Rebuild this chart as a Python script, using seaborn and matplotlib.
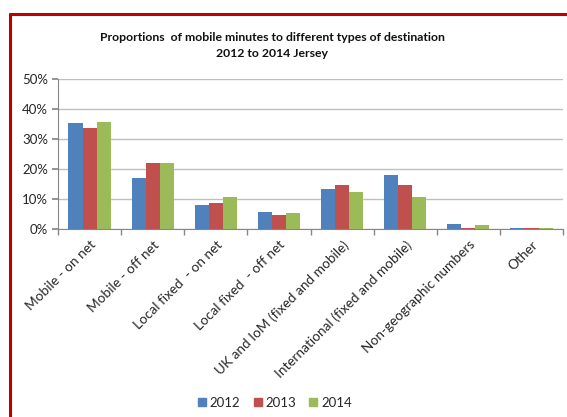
import matplotlib
matplotlib.use("Agg")
import matplotlib.pyplot as plt
import matplotlib.patches as mpatches
import seaborn as sns
import pandas as pd
from matplotlib.ticker import FuncFormatter, MultipleLocator

categories = ["Mobile - on net", "Mobile - off net", "Local fixed  - on net", "Local fixed  - off net",
              "UK and IoM (fixed and mobile)", "International (fixed and mobile)",
              "Non-geographic numbers", "Other"]
years = ["2012", "2013", "2014"]
v2012 = [35.2, 16.9, 7.9, 5.8, 13.4, 18.0, 1.6, 0.3]
v2013 = [33.7, 21.9, 8.8, 4.6, 14.8, 14.6, 0.45, 0.3]
v2014 = [35.8, 21.9, 10.6, 5.4, 12.2, 10.8, 1.3, 0.35]
colors = ["#4F81BD", "#C0504D", "#9BBB59"]

rows = []
for y, vals in zip(years, [v2012, v2013, v2014]):
    for c, v in zip(categories, vals):
        rows.append({"cat": c, "year": y, "val": v})
df = pd.DataFrame(rows)

sns.set_theme(style="white")
plt.rcParams["font.family"] = ["Lato", "DejaVu Sans"]

fig = plt.figure(figsize=(5.67, 4.17), dpi=100)
ax = fig.add_axes([0.1023, 0.4508, 0.8907, 0.3598])
sns.barplot(data=df, x="cat", y="val", hue="year", order=categories, hue_order=years,
            palette=colors, width=0.67, ax=ax, legend=False, saturation=1, linewidth=0)

ax.set_ylim(0, 50)
ax.set_xlim(-0.5, len(categories) - 0.5)
ax.yaxis.set_major_locator(MultipleLocator(10))
ax.yaxis.set_major_formatter(FuncFormatter(lambda v, p: f"{int(v)}%"))
ax.grid(axis="y", color="#BFBFBF", linewidth=1)
ax.set_axisbelow(True)
for s in ["top", "right"]:
    ax.spines[s].set_visible(False)
for s in ["left", "bottom"]:
    ax.spines[s].set_color("#868686")
    ax.spines[s].set_linewidth(0.8)
ax.set_xlabel("")
ax.set_ylabel("")
ax.tick_params(axis="y", length=4, color="#868686", labelsize=9.5, labelcolor="#262626", pad=3, left=True)
ax.set_xticks(range(len(categories)))
ax.set_xticklabels(categories, rotation=45, ha="right", rotation_mode="anchor", fontsize=9.8, color="#262626")
ax.tick_params(axis="x", which="major", length=0, pad=7)
ax.set_xticks([i - 0.5 for i in range(len(categories) + 1)], minor=True)
ax.tick_params(axis="x", which="minor", length=4, color="#868686", bottom=True)

fig.text(0.48, 0.891, "Proportions  of mobile minutes to different types of destination\n2012 to 2014 Jersey",
         ha="center", va="center", fontsize=8.8, fontweight="bold", color="#111111", linespacing=1.5)

handles = [mpatches.Patch(color=c, label=y) for c, y in zip(colors, years)]
fig.legend(handles=handles, loc="center", bbox_to_anchor=(0.485, 0.034), ncol=3, frameon=False,
           fontsize=9.5, handlelength=0.6, handleheight=0.6, handletextpad=0.3, columnspacing=1.0)

# red frame
fig.add_artist(plt.Line2D([0.018, 0.018], [0.0, 0.966], color="#C00000", linewidth=2.2, transform=fig.transFigure))
fig.add_artist(plt.Line2D([0.018, 1.0], [0.966, 0.966], color="#C00000", linewidth=2.2, transform=fig.transFigure))

fig.savefig("out.png", dpi=100)
